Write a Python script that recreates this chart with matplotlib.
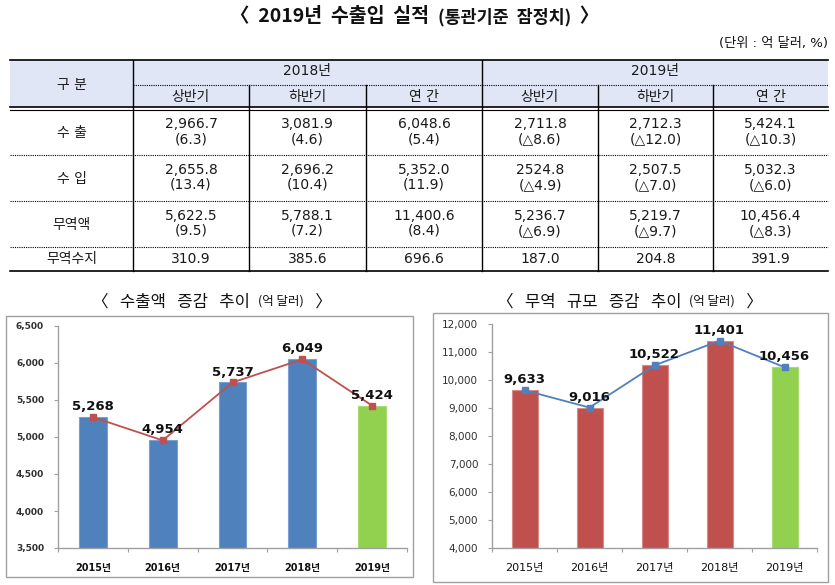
import matplotlib
matplotlib.use('Agg')
import matplotlib.pyplot as plt
from matplotlib.patches import Rectangle
from matplotlib.ticker import FuncFormatter, FixedLocator

plt.rcParams['font.family'] = ['DejaVu Sans', 'Noto Sans CJK KR']
KR = ['Noto Sans CJK KR', 'DejaVu Sans']

# ---------------- data ----------------
main_title = '〈  2019년  수출입  실적  '
main_title_sub = '(통관기준  잠정치)'
unit_note = '(단위 : 억 달러, %)'

table_years = ['2018년', '2019년']
table_periods = ['상반기', '하반기', '연 간']
table_corner = '구 분'
row_labels = ['수 출', '수 입', '무역액', '무역수지']
export_vals = ['2,966.7', '3,081.9', '6,048.6', '2,711.8', '2,712.3', '5,424.1']
export_chg = ['6.3', '4.6', '5.4', '△8.6', '△12.0', '△10.3']
import_vals = ['2,655.8', '2,696.2', '5,352.0', '2524.8', '2,507.5', '5,032.3']
import_chg = ['13.4', '10.4', '11.9', '△4.9', '△7.0', '△6.0']
trade_vals = ['5,622.5', '5,788.1', '11,400.6', '5,236.7', '5,219.7', '10,456.4']
trade_chg = ['9.5', '7.2', '8.4', '△6.9', '△9.7', '△8.3']
balance_vals = ['310.9', '385.6', '696.6', '187.0', '204.8', '391.9']

chart_years = ['2015년', '2016년', '2017년', '2018년', '2019년']
exports = [5268, 4954, 5737, 6049, 5424]
trade_volume = [9633, 9016, 10522, 11401, 10456]

left_title = ['〈   수출액   증감   추이  ', '(억 달러)', '   〉']
right_title = ['〈   무역   규모   증감   추이  ', '(억 달러)', '   〉']

# ---------------- figure ----------------
W, H = 835, 585
fig = plt.figure(figsize=(W / 100, H / 100), dpi=100)
cv = fig.add_axes([0, 0, 1, 1])
cv.set_xlim(0, W)
cv.set_ylim(H, 0)
cv.axis('off')
renderer = fig.canvas.get_renderer()


def multi_text(pieces, sizes, weights, cx, cy, color='#111111'):
    texts = []
    for p, s, w in zip(pieces, sizes, weights):
        t = cv.text(0, cy, p, fontsize=s, fontweight=w, family=KR,
                    ha='left', va='center_baseline', color=color)
        texts.append(t)
    widths = [t.get_window_extent(renderer).width for t in texts]
    x = cx - sum(widths) / 2
    for t, w in zip(texts, widths):
        t.set_x(x)
        x += w


# main title
multi_text([main_title, main_title_sub, '  〉'], [14, 12.5, 14],
           ['bold', 'bold', 'bold'], 415, 15)
cv.text(828, 44, unit_note, fontsize=9.5, ha='right', va='center', color='#111111')

# ---------------- table ----------------
tl, tr = 10, 828
y_top, y_mid, y_h1, y_h2, y_bot = 60, 85, 107, 109.5, 271
row_edges = [110, 155, 201, 247, 271]
vx_main = [133, 482]
vx_sub = [249, 366, 598, 713]
col_edges = [133, 249, 366, 482, 598, 713, 828]
col_centers = [(col_edges[i] + col_edges[i + 1]) / 2 for i in range(6)]

cv.add_patch(Rectangle((tl, y_top), tr - tl, y_h1 - y_top,
                       facecolor='#E1E6F7', edgecolor='none', zorder=0))
lc = '#000000'
cv.plot([tl, tr], [y_top, y_top], color=lc, lw=1.2)
cv.plot([133, tr], [y_mid, y_mid], color=lc, lw=0.8, ls=(0, (1, 1)))
cv.plot([tl, tr], [y_h1, y_h1], color=lc, lw=1.2)
cv.plot([tl, tr], [y_h2, y_h2], color=lc, lw=0.8)
for yy in row_edges[1:4]:
    cv.plot([tl, tr], [yy, yy], color=lc, lw=0.8, ls=(0, (1, 1)))
cv.plot([tl, tr], [y_bot, y_bot], color=lc, lw=1.2)
for xx in vx_main:
    cv.plot([xx, xx], [y_top, y_bot], color=lc, lw=1.0)
for xx in vx_sub:
    cv.plot([xx, xx], [y_mid, y_bot], color=lc, lw=1.0)

tfs = 10
tc = '#1a1a1a'
cv.text((tl + 133) / 2, 85, table_corner, fontsize=tfs, ha='center', va='center', color=tc)
cv.text((133 + 482) / 2, 71, table_years[0], fontsize=tfs, ha='center', va='center', color=tc)
cv.text((482 + tr) / 2, 71, table_years[1], fontsize=tfs, ha='center', va='center', color=tc)
for i, cx in enumerate(col_centers):
    cv.text(cx, 97, table_periods[i % 3], fontsize=tfs, ha='center', va='center', color=tc)

rows_two = [(export_vals, export_chg), (import_vals, import_chg), (trade_vals, trade_chg)]
for r, (vals, chg) in enumerate(rows_two):
    y0, y1 = row_edges[r], row_edges[r + 1]
    yc = (y0 + y1) / 2
    cv.text((tl + 133) / 2, yc + 1, row_labels[r], fontsize=tfs, ha='center', va='center', color=tc)
    for i, cx in enumerate(col_centers):
        cv.text(cx, yc - 8, vals[i], fontsize=tfs, ha='center', va='center', color=tc)
        cv.text(cx, yc + 7, '(' + chg[i] + ')', fontsize=tfs, ha='center', va='center', color=tc)
yc = (row_edges[3] + row_edges[4]) / 2
cv.text((tl + 133) / 2, yc, row_labels[3], fontsize=tfs, ha='center', va='center', color=tc)
for i, cx in enumerate(col_centers):
    cv.text(cx, yc, balance_vals[i], fontsize=tfs, ha='center', va='center', color=tc)

# ---------------- chart frames & titles ----------------
cv.add_patch(Rectangle((6, 316), 407, 261, facecolor='white', edgecolor='#A0A0A0', lw=1.0, zorder=0))
cv.add_patch(Rectangle((433, 313), 395, 269, facecolor='white', edgecolor='#A0A0A0', lw=1.0, zorder=0))
multi_text(left_title, [12, 9, 12], ['normal', 'normal', 'normal'], 212, 300)
multi_text(right_title, [12, 9, 12], ['normal', 'normal', 'normal'], 630, 300)


def px_axes(left, right, top, bottom):
    return fig.add_axes([left / W, (H - bottom) / H, (right - left) / W, (bottom - top) / H])


def style_axes(ax, n, ylo, yhi, ystep, bold, yfs, xfs):
    ax.set_facecolor('none')
    ax.set_xlim(-0.5, n - 0.5)
    ax.set_ylim(ylo, yhi)
    for s in ['top', 'right']:
        ax.spines[s].set_visible(False)
    for s in ['left', 'bottom']:
        ax.spines[s].set_color('#A0A0A0')
        ax.spines[s].set_linewidth(1.0)
    ax.yaxis.set_major_locator(FixedLocator(list(range(ylo, yhi + 1, ystep))))
    ax.yaxis.set_major_formatter(FuncFormatter(lambda v, p: f'{int(v):,}'))
    ax.tick_params(axis='y', length=3, width=0.8, color='#A0A0A0', pad=7,
                   labelsize=yfs, labelcolor='#303030')
    ax.set_xticks(range(n))
    ax.set_xticks([i - 0.5 for i in range(n + 1)], minor=True)
    ax.tick_params(axis='x', which='major', length=0, pad=11, labelsize=xfs, labelcolor='#111111')
    ax.tick_params(axis='x', which='minor', length=3, width=0.8, color='#A0A0A0')
    w = 'bold' if bold else 'normal'
    for lab in ax.get_yticklabels():
        lab.set_fontweight(w)
    ax.set_xticklabels(chart_years, fontweight=w)


# left chart: exports
axL = px_axes(58, 407, 326, 548)
xs = range(len(chart_years))
colsL = ['#4F81BD'] * 4 + ['#92D050']
axL.bar(xs, exports, width=0.4, color=colsL, edgecolor=['#7A9FD0'] * 4 + ['#A8DC70'], linewidth=0.8, zorder=2)
axL.plot(xs, exports, color='#C0504D', lw=1.3, marker='s', markersize=5, zorder=3)
for i, v in enumerate(exports):
    axL.annotate(f'{v:,}', (i, v), xytext=(0, 5), textcoords='offset points',
                 ha='center', va='baseline', fontsize=9.5, fontweight='bold', color='#111111', zorder=4)
style_axes(axL, 5, 3500, 6500, 500, True, 6.5, 7)

# right chart: trade volume
axR = px_axes(492, 817, 324, 548)
colsR = ['#C0504D'] * 4 + ['#92D050']
axR.bar(xs, trade_volume, width=0.4, color=colsR, edgecolor=['#D88A88'] * 4 + ['#A8DC70'], linewidth=0.8, zorder=2)
axR.plot(xs, trade_volume, color='#4F81BD', lw=1.3, marker='s', markersize=5, zorder=3)
for i, v in enumerate(trade_volume):
    axR.annotate(f'{v:,}', (i, v), xytext=(0, 5), textcoords='offset points',
                 ha='center', va='baseline', fontsize=9.5, fontweight='bold', color='#111111', zorder=4)
style_axes(axR, 5, 4000, 12000, 1000, False, 7.5, 8)

fig.savefig('out.png', dpi=100)
